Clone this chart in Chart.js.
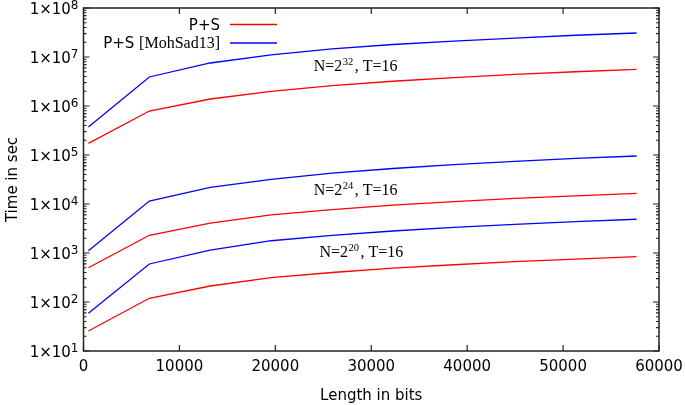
<!DOCTYPE html>
<html>
<head>
<meta charset="utf-8">
<script src="https://cdn.jsdelivr.net/npm/chart.js@4.4.1/dist/chart.umd.min.js"></script>
<style>
  html, body { margin: 0; padding: 0; background: #fff; }
  #wrap { width: 685px; height: 405px; }
</style>
</head>
<body>
<div id="wrap"><canvas id="TimeChart"></canvas></div>
<script>
  // Length in bits (x)
  const lengths = [512, 6862, 13212, 19562, 25912, 32262, 38612, 44962, 51312, 57662];

  // Time in sec
  const ps_n32     = [1.73e5, 7.9e5, 1.39e6, 1.98e6, 2.6e6, 3.2e6, 3.8e6, 4.4e6, 5.0e6, 5.6e6];
  const moh_n32    = [3.73e5, 3.91e6, 7.55e6, 1.10e7, 1.47e7, 1.80e7, 2.11e7, 2.43e7, 2.78e7, 3.09e7];
  const ps_n24     = [5.0e2, 2.30e3, 4.09e3, 5.97e3, 7.7e3, 9.5e3, 1.12e4, 1.30e4, 1.47e4, 1.65e4];
  const moh_n24    = [1.11e3, 1.15e4, 2.19e4, 3.19e4, 4.25e4, 5.3e4, 6.35e4, 7.4e4, 8.5e4, 9.55e4];
  const ps_n20     = [25.6, 119, 212, 313, 400, 489, 576, 664, 752, 840];
  const moh_n20    = [58.7, 597, 1150, 1780, 2300, 2810, 3330, 3850, 4360, 4880];

  // Axis ticks
  const x_ticks = [0, 10000, 20000, 30000, 40000, 50000, 60000];
  const y_decades = [1e1, 1e2, 1e3, 1e4, 1e5, 1e6, 1e7, 1e8];

  // Curve group labels
  const group_labels = ['32', '24', '20'];
  const group_anchor_x = [24000, 24000, 24600];
  const group_anchor_y = [5.2e6, 1.53e4, 8.3e2];

  const red  = '#ff0000';
  const blue = '#0000ff';
  const axis_color = '#222222';

  function series(values) {
    return lengths.map(function (l, i) { return { x: l, y: values[i] }; });
  }

  function lineSet(label, values, color) {
    return {
      label: label,
      data: series(values),
      borderColor: color,
      backgroundColor: color,
      borderWidth: 1.3,
      pointRadius: 0,
      tension: 0,
      fill: false
    };
  }

  // frame, inward ticks, y labels with exponents, legend and labels
  const decorations = {
    id: 'decorations',
    afterDraw: function (chart) {
      const ctx = chart.ctx;
      const a = chart.chartArea;
      const xs = chart.scales.x;
      const ys = chart.scales.y;
      ctx.save();
      ctx.strokeStyle = axis_color;
      ctx.lineWidth = 1.5;
      ctx.strokeRect(a.left, a.top, a.right - a.left, a.bottom - a.top);

      ctx.lineWidth = 1.2;
      ctx.beginPath();
      x_ticks.forEach(function (v) {
        const px = xs.getPixelForValue(v);
        ctx.moveTo(px, a.bottom); ctx.lineTo(px, a.bottom - 6);
        ctx.moveTo(px, a.top); ctx.lineTo(px, a.top + 6);
      });
      for (let d = 0; d < y_decades.length; d++) {
        const base = y_decades[d];
        for (let m = 1; m <= 9; m++) {
          const v = base * m;
          if (v > ys.max) break;
          const py = ys.getPixelForValue(v);
          const len = m === 1 ? 6 : 3;
          ctx.moveTo(a.left, py); ctx.lineTo(a.left + len, py);
          ctx.moveTo(a.right, py); ctx.lineTo(a.right - len, py);
        }
      }
      ctx.stroke();

      // y tick labels 1x10^n
      ctx.fillStyle = '#000';
      ctx.textBaseline = 'alphabetic';
      ctx.textAlign = 'left';
      y_decades.forEach(function (v) {
        const e = String(Math.round(Math.log10(v)));
        const py = ys.getPixelForValue(v);
        ctx.font = '12px "DejaVu Sans", sans-serif';
        const we = ctx.measureText(e).width;
        ctx.font = '15px "DejaVu Sans", sans-serif';
        const wm = ctx.measureText('1×10').width;
        const right = a.left - 5;
        ctx.fillText('1×10', right - we - wm, py + 5.5);
        ctx.font = '12px "DejaVu Sans", sans-serif';
        ctx.fillText(e, right - we, py + 0.5);
      });

      // legend
      const legendRows = [
        { main: 'P+S', extra: '', color: red, y: 29.5 },
        { main: 'P+S ', extra: '[MohSad13]', color: blue, y: 48 }
      ];
      const textRight = 220;
      legendRows.forEach(function (r) {
        ctx.fillStyle = '#000';
        ctx.font = '16px "Liberation Serif", serif';
        const wExtra = r.extra ? ctx.measureText(r.extra).width : 0;
        ctx.font = '15px "DejaVu Sans", sans-serif';
        const wMain = ctx.measureText(r.main).width;
        const start = textRight - wExtra - wMain;
        ctx.fillText(r.main, start, r.y);
        if (r.extra) {
          ctx.font = '16px "Liberation Serif", serif';
          ctx.fillText(r.extra, start + wMain, r.y);
        }
        ctx.strokeStyle = r.color;
        ctx.lineWidth = 1.3;
        ctx.beginPath();
        ctx.moveTo(230, r.y - 5);
        ctx.lineTo(277, r.y - 5);
        ctx.stroke();
      });

      // group labels N=2^k, T=16
      ctx.fillStyle = '#000';
      group_labels.forEach(function (e, i) {
        let px = xs.getPixelForValue(group_anchor_x[i]);
        const py = ys.getPixelForValue(group_anchor_y[i]);
        ctx.font = '16px "Liberation Serif", serif';
        ctx.fillText('N=2', px, py);
        px += ctx.measureText('N=2').width;
        ctx.font = '10.5px "Liberation Serif", serif';
        ctx.fillText(e, px + 0.5, py - 5.5);
        px += ctx.measureText(e).width + 2;
        ctx.font = '16px "Liberation Serif", serif';
        ctx.fillText(', T=16', px, py);
      });
      ctx.restore();
    }
  };

  const ctxTime = document.getElementById('TimeChart').getContext('2d');
  new Chart(ctxTime, {
    type: 'line',
    data: {
      datasets: [
        lineSet('P+S N=2^32', ps_n32, red),
        lineSet('MohSad13 N=2^32', moh_n32, blue),
        lineSet('P+S N=2^24', ps_n24, red),
        lineSet('MohSad13 N=2^24', moh_n24, blue),
        lineSet('P+S N=2^20', ps_n20, red),
        lineSet('MohSad13 N=2^20', moh_n20, blue)
      ]
    },
    options: {
      responsive: true,
      maintainAspectRatio: false,
      animation: false,
      layout: { padding: { top: 8, right: 26, left: 0, bottom: 0 } },
      plugins: {
        legend: { display: false },
        tooltip: { enabled: false }
      },
      scales: {
        x: {
          type: 'linear',
          min: 0,
          max: 60000,
          grid: { display: false, drawTicks: false },
          border: { display: false },
          afterBuildTicks: function (scale) {
            scale.ticks = x_ticks.map(function (v) { return { value: v }; });
          },
          afterFit: function (scale) {
            scale.height = 54;
            scale.paddingLeft = 0;
            scale.paddingRight = 0;
          },
          ticks: {
            color: '#000',
            padding: 7,
            maxRotation: 0,
            autoSkip: false,
            font: { family: '"DejaVu Sans", sans-serif', size: 15 },
            callback: function (v) { return String(v); }
          },
          title: {
            display: true,
            text: 'Length in bits',
            color: '#000',
            font: { family: '"DejaVu Sans", sans-serif', size: 15 },
            padding: { top: 4, bottom: 0 }
          }
        },
        y: {
          type: 'logarithmic',
          min: 10,
          max: 1e8,
          grid: { display: false, drawTicks: false },
          border: { display: false },
          afterBuildTicks: function (scale) {
            scale.ticks = y_decades.map(function (v) { return { value: v }; });
          },
          afterFit: function (scale) { scale.width = 83.5; },
          ticks: { display: false },
          title: {
            display: true,
            text: 'Time in sec',
            color: '#000',
            font: { family: '"DejaVu Sans", sans-serif', size: 15 },
            padding: { top: 4, bottom: 0 }
          }
        }
      }
    },
    plugins: [decorations]
  });
</script>
</body>
</html>
